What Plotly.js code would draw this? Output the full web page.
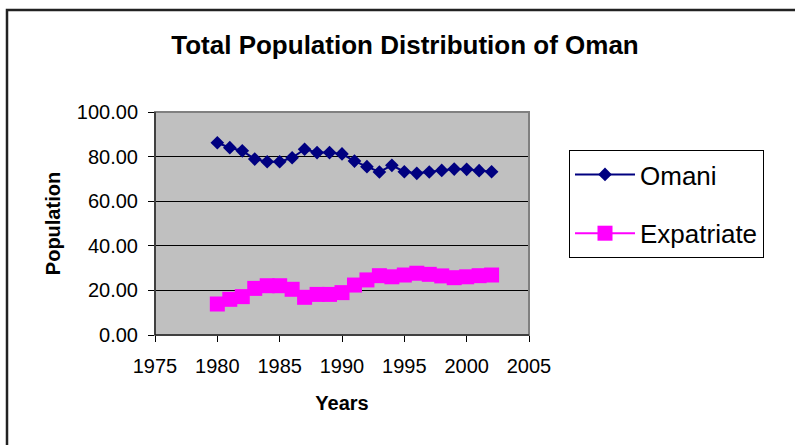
<!DOCTYPE html>
<html>
<head>
<meta charset="utf-8">
<script src="https://cdn.plot.ly/plotly-3.0.1.min.js"></script>
<style>
html,body{margin:0;padding:0;background:#fff;}
#chart{width:795px;height:445px;}
</style>
</head>
<body>
<div id="chart"></div>
<script>
const years = [1980,1981,1982,1983,1984,1985,1986,1987,1988,1989,1990,1991,1992,1993,1994,1995,1996,1997,1998,1999,2000,2001,2002];
const omani = [86.2,84.0,82.6,78.9,77.7,77.7,79.5,83.3,81.8,81.8,81.2,78.0,75.5,73.1,76.1,73.2,72.5,73.1,73.8,74.4,74.3,73.7,73.2];
const expatriate = [13.9,16.0,17.2,20.9,22.1,22.1,20.5,16.9,18.2,18.2,19.0,22.4,24.7,26.6,26.1,26.9,27.7,27.2,26.5,25.7,26.1,26.6,26.9];
const seriesNames = ["Omani","Expatriate"];
const yTickVals = [0,20,40,60,80,100];
const xTickVals = [1975,1980,1985,1990,1995,2000,2005];

const W = 795, H = 445;
const M = {l:155, r:266, t:112, b:110};
const pw = W - M.l - M.r, ph = H - M.t - M.b;
const px = x => (x - M.l)/pw;
const py = y => (H - M.b - y)/ph;

const traces = [
  {x: years, y: omani, name: seriesNames[0], type:'scatter', mode:'lines+markers',
   legendgroup:'a',
   line:{color:'#000080', width:2},
   marker:{symbol:'diamond', size:10.5, color:'#000080'}},
  {x: years, y: expatriate, name: seriesNames[1], type:'scatter', mode:'lines+markers',
   legendgroup:'b',
   line:{color:'#FF00FF', width:2},
   marker:{symbol:'square', size:15, color:'#FF00FF'}}
];

const font = 'Liberation Sans, Arial, sans-serif';
const layout = {
  width:W, height:H,
  margin:M,
  paper_bgcolor:'#ffffff',
  plot_bgcolor:'#c0c0c0',
  font:{family:font, color:'#000', size:20},
  title:{text:'<b>Total Population Distribution of Oman</b>', font:{family:font, size:26, color:'#000'},
         x:(405)/W, xanchor:'center', y:1-45/H, yanchor:'middle'},
  xaxis:{range:[1975,2005], tickvals:xTickVals, ticktext:xTickVals.map(String),
         ticks:'outside', ticklen:6, tickcolor:'#000', tickwidth:1,
         showline:true, linecolor:'#000', linewidth:1, showgrid:false, zeroline:false,
         ticklabelstandoff:7,
         tickfont:{family:font, size:20, color:'#000'},
         title:{text:'<b>Years</b>', font:{family:font, size:20, color:'#000'}, standoff:19}},
  yaxis:{range:[0,100], tickvals:yTickVals, ticktext:yTickVals.map(v=>v.toFixed(2)),
         ticks:'outside', ticklen:6, tickcolor:'#000', tickwidth:1,
         showline:true, linecolor:'#000', linewidth:1,
         showgrid:true, gridcolor:'#000', gridwidth:1, zeroline:false,
         ticklabelstandoff:6,
         tickfont:{family:font, size:20, color:'#000'},
         title:{text:'<b>Population</b>', font:{family:font, size:20, color:'#000'}, standoff:10}},
  showlegend:true,
  legend:{x:px(569), xanchor:'left', y:py(150), yanchor:'top',
          bgcolor:'#ffffff', bordercolor:'#000', borderwidth:1,
          font:{family:font, size:26, color:'#000'},
          traceorder:'grouped', tracegroupgap:22, itemwidth:60},
  shapes:[
    {type:'rect', xref:'paper', yref:'paper', x0:0, x1:1, y0:0, y1:1,
     line:{color:'#808080', width:2}, fillcolor:'rgba(0,0,0,0)', layer:'above'},
    {type:'line', xref:'paper', yref:'paper', x0:0, x1:0, y0:0, y1:1,
     line:{color:'#000', width:1}, layer:'above'},
    {type:'line', xref:'paper', yref:'paper', x0:0, x1:1, y0:0, y1:0,
     line:{color:'#000', width:1}, layer:'above'},
    {type:'rect', xref:'paper', yref:'paper', x0:px(7), x1:px(805), y0:py(455), y1:py(10),
     line:{color:'#222', width:2.5}, fillcolor:'rgba(0,0,0,0)', layer:'above'}
  ]
};

Plotly.newPlot('chart', traces, layout, {displayModeBar:false, staticPlot:true});
</script>
</body>
</html>
